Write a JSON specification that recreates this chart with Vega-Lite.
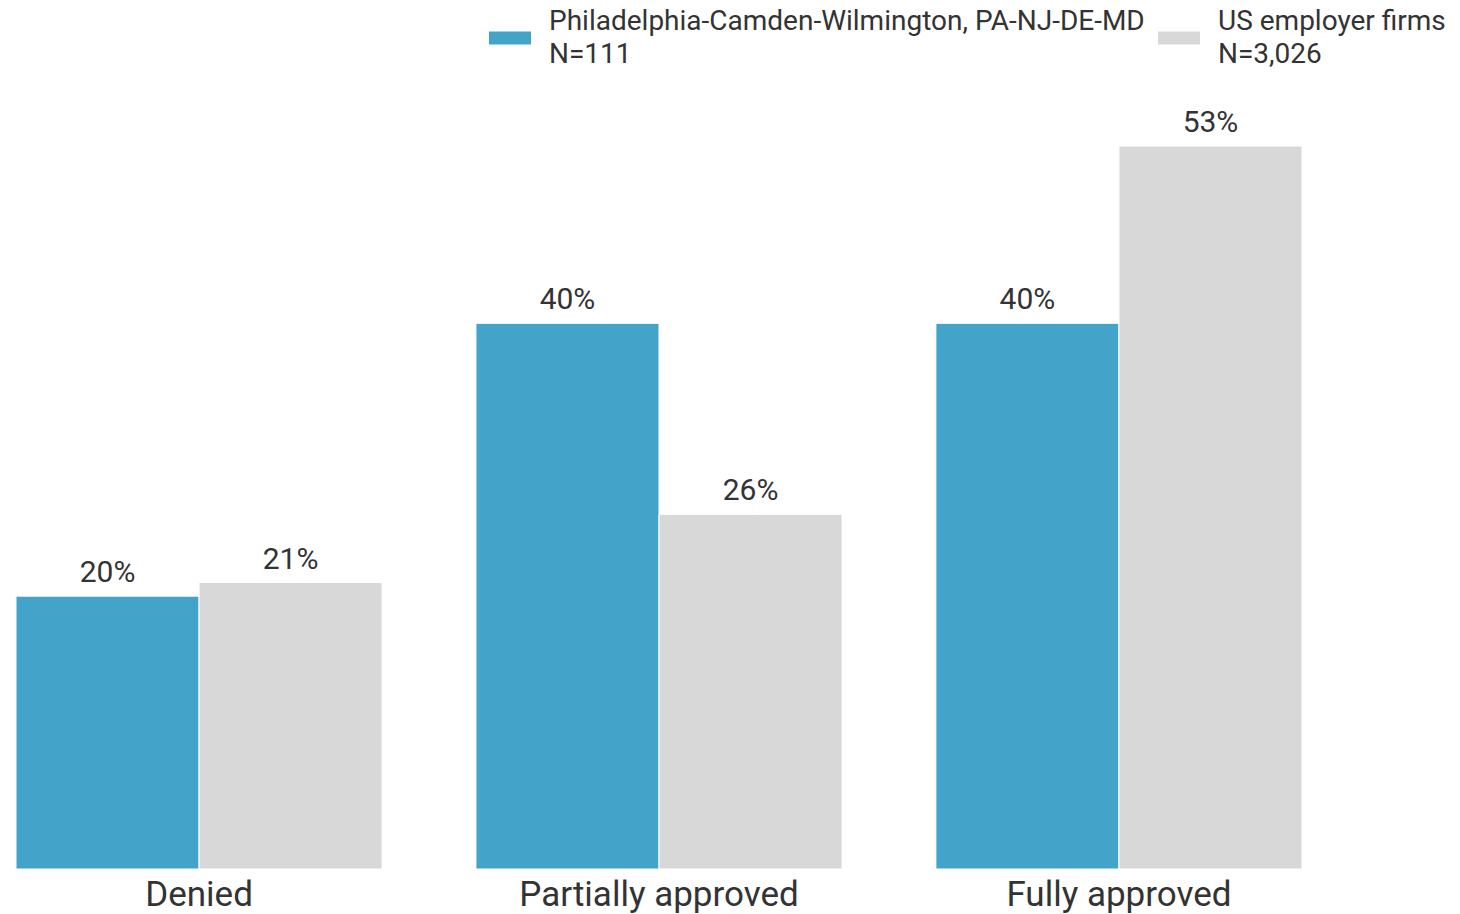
{
  "$schema": "https://vega.github.io/schema/vega-lite/v6.json",
  "autosize": {"type": "none"},
  "padding": {"left": 16, "top": 146, "right": 158, "bottom": 45},
  "width": 1286,
  "height": 723,
  "background": "white",
  "config": {
    "font": "Roboto",
    "view": {"stroke": null},
    "style": {"guide-label": {"lineHeight": 33}}
  },
  "data": {
    "values": [
      {"category": "Denied", "series": "Philadelphia-Camden-Wilmington, PA-NJ-DE-MD|N=111", "value": 0.20},
      {"category": "Denied", "series": "US employer firms|N=3,026", "value": 0.21},
      {"category": "Partially approved", "series": "Philadelphia-Camden-Wilmington, PA-NJ-DE-MD|N=111", "value": 0.40},
      {"category": "Partially approved", "series": "US employer firms|N=3,026", "value": 0.26},
      {"category": "Fully approved", "series": "Philadelphia-Camden-Wilmington, PA-NJ-DE-MD|N=111", "value": 0.40},
      {"category": "Fully approved", "series": "US employer firms|N=3,026", "value": 0.53}
    ]
  },
  "encoding": {
    "x": {
      "field": "category",
      "type": "nominal",
      "sort": ["Denied", "Partially approved", "Fully approved"],
      "scale": {"paddingInner": 0.204, "paddingOuter": 0},
      "axis": {
        "title": null,
        "labelAngle": 0,
        "domain": false,
        "ticks": false,
        "labelFontSize": 35,
        "labelColor": "#333333",
        "labelPadding": 8,
        "labelBaseline": "top",
        "labelLimit": 500
      }
    },
    "xOffset": {
      "field": "series",
      "type": "nominal",
      "sort": ["Philadelphia-Camden-Wilmington, PA-NJ-DE-MD|N=111", "US employer firms|N=3,026"]
    },
    "y": {
      "field": "value",
      "type": "quantitative",
      "scale": {"domain": [0, 0.53], "nice": false},
      "axis": null
    }
  },
  "layer": [
    {
      "mark": {"type": "bar", "stroke": "white", "strokeWidth": 1},
      "encoding": {
        "color": {
          "field": "series",
          "type": "nominal",
          "sort": ["Philadelphia-Camden-Wilmington, PA-NJ-DE-MD|N=111", "US employer firms|N=3,026"],
          "scale": {"range": ["#43A3C8", "#D8D8D8"]},
          "legend": {
            "title": null,
            "orient": "none",
            "direction": "horizontal",
            "legendX": 473,
            "legendY": -129,
            "padding": 0,
            "symbolType": "M-1,-0.31H1V0.31H-1Z",
            "symbolSize": 1764,
            "symbolStrokeWidth": 0,
            "labelFontSize": 28,
            "labelColor": "#333333",
            "labelOffset": 18,
            "labelLimit": 800,
            "labelBaseline": "line-bottom",
            "labelExpr": "split(datum.label, '|')",
            "columnPadding": 13
          }
        }
      }
    },
    {
      "mark": {"type": "text", "baseline": "bottom", "dy": -8, "fontSize": 30, "color": "#333333"},
      "encoding": {
        "text": {"field": "value", "type": "quantitative", "format": ".0%"}
      }
    }
  ]
}
